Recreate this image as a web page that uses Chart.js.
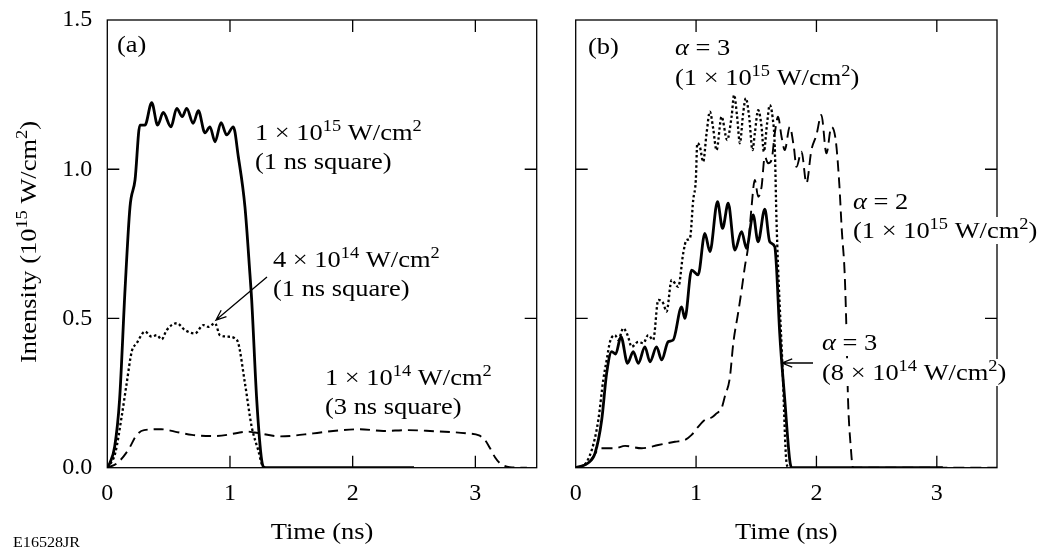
<!DOCTYPE html>
<html>
<head>
<meta charset="utf-8">
<script src="https://cdn.jsdelivr.net/npm/chart.js@4.4.1/dist/chart.umd.min.js"></script>
<style>
  html, body { margin: 0; padding: 0; background: #fff; }
  #wrap { position: relative; width: 1052px; height: 550px; }
  #wrap canvas { position: absolute; left: 0; top: 0; }
</style>
</head>
<body>
<div id="wrap">
  <canvas id="chartA" width="1052" height="550" style="width:1052px;height:550px"></canvas>
  <canvas id="chartB" width="1052" height="550" style="width:1052px;height:550px"></canvas>
</div>
<script>
// Panel (a): square pulses
const timeA1 = [0, 0.02, 0.06, 0.10, 0.145, 0.185, 0.226, 0.266, 0.307, 0.362, 0.41, 0.456, 0.519, 0.566, 0.611, 0.647, 0.70, 0.742, 0.796, 0.837, 0.878, 0.927, 0.973, 1.027, 1.068, 1.122, 1.163, 1.177, 1.218, 1.258, 1.285, 2.5];
const intA1 = [0, 0.015, 0.07, 0.227, 0.6, 0.874, 0.964, 1.148, 1.148, 1.223, 1.148, 1.19, 1.142, 1.204, 1.176, 1.204, 1.154, 1.196, 1.122, 1.142, 1.092, 1.156, 1.115, 1.142, 1.042, 0.874, 0.646, 0.561, 0.227, 0.026, 0, 0];

const timeA2 = [0, 0.064, 0.117, 0.158, 0.199, 0.24, 0.307, 0.362, 0.403, 0.443, 0.484, 0.566, 0.633, 0.715, 0.783, 0.823, 0.878, 0.918, 0.986, 1.04, 1.068, 1.122, 1.177, 1.23, 1.27, 1.3];
const intA2 = [0, 0.048, 0.171, 0.283, 0.389, 0.417, 0.456, 0.439, 0.444, 0.43, 0.461, 0.484, 0.461, 0.45, 0.478, 0.472, 0.484, 0.444, 0.439, 0.433, 0.417, 0.283, 0.137, 0.059, 0.003, 0];

const timeA3 = [0, 0.08, 0.17, 0.24, 0.30, 0.44, 0.55, 0.69, 0.88, 1.07, 1.14, 1.2, 1.41, 1.68, 1.84, 2.06, 2.25, 2.44, 2.63, 2.93, 3.03, 3.08, 3.12, 3.16, 3.2, 3.28, 3.42];
const intA3 = [0, 0.015, 0.059, 0.11, 0.126, 0.129, 0.121, 0.11, 0.106, 0.117, 0.121, 0.118, 0.105, 0.115, 0.123, 0.129, 0.123, 0.126, 0.123, 0.115, 0.108, 0.092, 0.065, 0.035, 0.015, 0.002, 0];

// Panel (b): shaped pulses
const timeB1 = [0, 0.1, 0.16, 0.216, 0.257, 0.299, 0.332, 0.376, 0.431, 0.478, 0.52, 0.575, 0.617, 0.672, 0.714, 0.768, 0.81, 0.88, 0.907, 0.963, 1.017, 1.073, 1.115, 1.178, 1.22, 1.267, 1.322, 1.378, 1.419, 1.474, 1.515, 1.571, 1.612, 1.654, 1.668, 1.695, 1.737, 1.778, 1.793, 3.05];
const intB1 = [0, 0.015, 0.048, 0.16, 0.316, 0.389, 0.381, 0.439, 0.35, 0.389, 0.35, 0.405, 0.355, 0.405, 0.361, 0.422, 0.428, 0.539, 0.5, 0.662, 0.646, 0.785, 0.724, 0.891, 0.802, 0.886, 0.729, 0.791, 0.735, 0.847, 0.757, 0.866, 0.757, 0.74, 0.673, 0.45, 0.227, 0.026, 0, 0];

const timeB2 = [0, 0.05, 0.133, 0.188, 0.229, 0.257, 0.285, 0.326, 0.354, 0.395, 0.431, 0.465, 0.52, 0.561, 0.603, 0.644, 0.686, 0.727, 0.755, 0.797, 0.852, 0.893, 0.921, 0.949, 0.976, 0.998, 1.01, 1.032, 1.059, 1.087, 1.115, 1.142, 1.17, 1.212, 1.258, 1.295, 1.316, 1.341, 1.364, 1.391, 1.413, 1.441, 1.469, 1.488, 1.516, 1.544, 1.563, 1.59, 1.612, 1.635, 1.654, 1.668, 1.718, 1.752, 1.77];
const intB2 = [0, 0.003, 0.059, 0.16, 0.294, 0.36, 0.422, 0.444, 0.428, 0.467, 0.444, 0.405, 0.422, 0.417, 0.444, 0.428, 0.562, 0.551, 0.523, 0.629, 0.606, 0.718, 0.763, 0.768, 0.896, 0.964, 1.087, 1.075, 1.025, 1.12, 1.193, 1.137, 1.064, 1.176, 1.098, 1.176, 1.249, 1.176, 1.087, 1.187, 1.238, 1.176, 1.064, 1.12, 1.198, 1.142, 1.059, 1.154, 1.215, 1.176, 1.075, 0.83, 0.338, 0.015, 0];

const timeB3 = [0, 0.1, 0.15, 0.2, 0.326, 0.41, 0.548, 0.686, 0.824, 0.907, 0.963, 1.017, 1.073, 1.129, 1.17, 1.212, 1.24, 1.28, 1.31, 1.35, 1.38, 1.405, 1.432, 1.46, 1.488, 1.516, 1.544, 1.571, 1.598, 1.627, 1.654, 1.681, 1.71, 1.737, 1.778, 1.812, 1.834, 1.876, 1.917, 1.958, 2.0, 2.041, 2.083, 2.124, 2.16, 2.19, 2.21, 2.235, 2.25, 2.262, 2.285, 2.304, 3.5];
const intB3 = [0, 0.015, 0.04, 0.065, 0.065, 0.073, 0.065, 0.076, 0.087, 0.093, 0.11, 0.137, 0.16, 0.168, 0.182, 0.199, 0.24, 0.3, 0.42, 0.52, 0.6, 0.673, 0.74, 0.87, 0.964, 0.908, 0.941, 1.042, 1.02, 1.031, 1.12, 1.176, 1.109, 1.064, 1.142, 1.075, 1.008, 1.059, 0.953, 1.064, 1.115, 1.182, 1.053, 1.142, 1.098, 0.95, 0.8, 0.646, 0.45, 0.234, 0.07, 0, 0];

const xTicks = [0, 1, 2, 3];
const yTicks = [0, 0.5, 1.0, 1.5];

const FONT = "'Liberation Serif', 'Times New Roman', serif";
const SX = 1.15;   // reference type is a bit wider than Liberation Serif
const TICK = 12;

function pts(ts, vs) {
    return ts.map((t, i) => ({ x: t, y: vs[i] }));
}

function partFont(kind, size) {
    if (kind === 'sup') return Math.round(size * 0.7) + 'px ' + FONT;
    if (kind === 'it') return 'italic ' + size + 'px ' + FONT;
    return size + 'px ' + FONT;
}

function richWidth(ctx, parts, size) {
    let w = 0;
    parts.forEach(([txt, kind]) => {
        ctx.font = partFont(kind, size);
        w += ctx.measureText(txt).width;
    });
    return w * SX;
}

function drawRich(ctx, x, y, parts, size) {
    ctx.save();
    ctx.translate(x, y);
    ctx.scale(SX, 1);
    ctx.fillStyle = '#000';
    ctx.textBaseline = 'alphabetic';
    ctx.textAlign = 'left';
    let cx = 0;
    parts.forEach(([txt, kind]) => {
        ctx.font = partFont(kind, size);
        ctx.fillText(txt, cx, kind === 'sup' ? -size * 0.37 : 0);
        cx += ctx.measureText(txt).width;
    });
    ctx.restore();
}

function drawArrow(ctx, x1, y1, x2, y2) {
    const ang = Math.atan2(y2 - y1, x2 - x1);
    ctx.save();
    ctx.strokeStyle = '#000';
    ctx.lineWidth = 1.3;
    ctx.beginPath();
    ctx.moveTo(x1, y1);
    ctx.lineTo(x2, y2);
    ctx.moveTo(x2 - 11 * Math.cos(ang - 0.38), y2 - 11 * Math.sin(ang - 0.38));
    ctx.lineTo(x2, y2);
    ctx.lineTo(x2 - 11 * Math.cos(ang + 0.38), y2 - 11 * Math.sin(ang + 0.38));
    ctx.stroke();
    ctx.restore();
}

const sup = s => [s, 'sup'];
const txt = s => [s, ''];

function framePlugin(texts, arrows, extra) {
    return {
        id: 'frame',
        afterDatasetsDraw(chart) {
            const { ctx, chartArea: a, scales: { x, y } } = chart;
            ctx.save();
            ctx.strokeStyle = '#000';
            ctx.lineWidth = 1.3;
            ctx.strokeRect(a.left, a.top, a.right - a.left, a.bottom - a.top);
            ctx.beginPath();
            x.ticks.forEach(t => {
                if (t.value <= 0) return;
                const px = x.getPixelForValue(t.value);
                ctx.moveTo(px, a.bottom); ctx.lineTo(px, a.bottom - TICK);
                ctx.moveTo(px, a.top); ctx.lineTo(px, a.top + TICK);
            });
            y.ticks.forEach(t => {
                if (t.value <= 0 || t.value >= 1.5) return;
                const py = y.getPixelForValue(t.value);
                ctx.moveTo(a.left, py); ctx.lineTo(a.left + TICK, py);
                ctx.moveTo(a.right, py); ctx.lineTo(a.right - TICK, py);
            });
            ctx.stroke();
            ctx.restore();

            // labels with a white box knock out the lines behind them
            texts.forEach(t => {
                if (!t.mask) return;
                const w = richWidth(ctx, t.parts, t.size || 23);
                ctx.fillStyle = '#fff';
                ctx.fillRect(t.x - 3, t.y - 21, w + 6, 27);
            });
            texts.forEach(t => drawRich(ctx, t.x, t.y, t.parts, t.size || 23));
            arrows.forEach(r => drawArrow(ctx, r[0], r[1], r[2], r[3]));

            const tp = [txt('Time (ns)')];
            const cx = (a.left + a.right) / 2;
            drawRich(ctx, cx - richWidth(ctx, tp, 23) / 2, 539, tp, 23);
            if (extra) extra(ctx, a);
        }
    };
}

// keep tick labels from pushing the plot area around
function noPad(s) {
    s.paddingTop = 0; s.paddingBottom = 0;
    s.paddingLeft = 0; s.paddingRight = 0;
}

function makeChart(id, datasets, padLeft, padRight, yWidth, showY, plugin) {
    const tickFont = { family: FONT, size: 24 };
    return new Chart(document.getElementById(id), {
        type: 'line',
        data: { datasets },
        options: {
            responsive: false,
            animation: false,
            devicePixelRatio: 1,
            layout: { padding: { left: padLeft, right: padRight, top: 20, bottom: 0 } },
            plugins: { legend: { display: false }, tooltip: { enabled: false } },
            elements: {
                point: { radius: 0 },
                line: { cubicInterpolationMode: 'monotone', borderColor: '#000', fill: false }
            },
            scales: {
                x: {
                    type: 'linear', min: 0, max: 3.5,
                    grid: { display: false, drawTicks: false },
                    border: { display: false },
                    afterBuildTicks: s => { s.ticks = xTicks.map(v => ({ value: v })); },
                    ticks: { padding: 12, color: '#000', font: tickFont, maxRotation: 0,
                             callback: v => String(v) },
                    afterFit: s => { s.height = 82.3; noPad(s); }
                },
                y: {
                    min: 0, max: 1.5,
                    grid: { display: false, drawTicks: false },
                    border: { display: false },
                    afterBuildTicks: s => { s.ticks = yTicks.map(v => ({ value: v })); },
                    ticks: { display: showY, padding: 15, color: '#000', font: tickFont,
                             callback: v => Number(v).toFixed(1) },
                    afterFit: s => { s.width = yWidth; noPad(s); }
                }
            }
        },
        plugins: [plugin]
    });
}

const i15 = [txt('1 × 10'), sup('15'), txt(' W/cm'), sup('2')];

const textsA = [
    { x: 117, y: 52, parts: [txt('(a)')] },
    { x: 255, y: 140, parts: i15 },
    { x: 255, y: 169, parts: [txt('(1 ns square)')] },
    { x: 273, y: 267, parts: [txt('4 × 10'), sup('14'), txt(' W/cm'), sup('2')] },
    { x: 273, y: 296, parts: [txt('(1 ns square)')] },
    { x: 325, y: 385, parts: [txt('1 × 10'), sup('14'), txt(' W/cm'), sup('2')] },
    { x: 325, y: 414, parts: [txt('(3 ns square)')] }
];
const arrowsA = [[267, 277, 216, 320]];

const textsB = [
    { x: 588, y: 54, parts: [txt('(b)')] },
    { x: 675, y: 55, parts: [['α', 'it'], txt(' = 3')] },
    { x: 675, y: 85, parts: [txt('(1 × 10'), sup('15'), txt(' W/cm'), sup('2'), txt(')')] },
    { x: 853, y: 209, parts: [['α', 'it'], txt(' = 2')] },
    { x: 853, y: 238, parts: [txt('(1 × 10'), sup('15'), txt(' W/cm'), sup('2'), txt(')')], mask: true },
    { x: 822, y: 350, parts: [['α', 'it'], txt(' = 3')], mask: true },
    { x: 822, y: 380, parts: [txt('(8 × 10'), sup('14'), txt(' W/cm'), sup('2'), txt(')')], mask: true }
];
const arrowsB = [[813, 363, 782, 363]];

function pageTexts(ctx) {
    // y-axis title
    const yt = [txt('Intensity (10'), sup('15'), txt(' W/cm'), sup('2'), txt(')')];
    ctx.save();
    ctx.translate(36, 242);
    ctx.rotate(-Math.PI / 2);
    drawRich(ctx, -richWidth(ctx, yt, 23) / 2, 0, yt, 23);
    ctx.restore();
    drawRich(ctx, 13, 547, [txt('E16528JR')], 14);
}

makeChart('chartA', [
    { data: pts(timeA1, intA1), borderWidth: 2.8 },
    { data: pts(timeA2, intA2), borderWidth: 2.3, borderDash: [2.5, 2.5] },
    { data: pts(timeA3, intA3), borderWidth: 1.9, borderDash: [10, 6] }
], 0, 1052 - 536.7, 107.3, true, framePlugin(textsA, arrowsA, pageTexts));

makeChart('chartB', [
    { data: pts(timeB1, intB1), borderWidth: 2.8 },
    { data: pts(timeB2, intB2), borderWidth: 2.3, borderDash: [2.5, 2.5] },
    { data: pts(timeB3, intB3), borderWidth: 1.9, borderDash: [11, 6] }
], 515.7, 1052 - 997, 60, false, framePlugin(textsB, arrowsB, null));
</script>
</body>
</html>
